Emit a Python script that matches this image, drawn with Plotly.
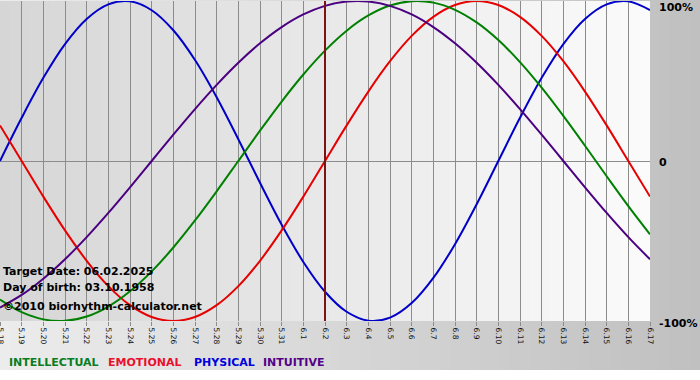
import plotly.graph_objects as go

# ---- data (one per day) ----
dates = ["5.18", "5.19", "5.20", "5.21", "5.22", "5.23", "5.24", "5.25", "5.26", "5.27",
         "5.28", "5.29", "5.30", "5.31", "6.1", "6.2", "6.3", "6.4", "6.5", "6.6",
         "6.7", "6.8", "6.9", "6.10", "6.11", "6.12", "6.13", "6.14", "6.15", "6.16", "6.17"]

physical = [0.0, 0.2698, 0.5196, 0.7308, 0.8879, 0.9791, 0.9977, 0.9423, 0.8170, 0.6311,
            0.3984, 0.1362, -0.1362, -0.3984, -0.6311, -0.8170, -0.9423, -0.9977, -0.9791, -0.8879,
            -0.7308, -0.5196, -0.2698, 0.0, 0.2698, 0.5196, 0.7308, 0.8879, 0.9791, 0.9977, 0.9423]

emotional = [0.2225, 0.0, -0.2225, -0.4339, -0.6235, -0.7818, -0.9010, -0.9749, -1.0, -0.9749,
             -0.9010, -0.7818, -0.6235, -0.4339, -0.2225, 0.0, 0.2225, 0.4339, 0.6235, 0.7818,
             0.9010, 0.9749, 1.0, 0.9749, 0.9010, 0.7818, 0.6235, 0.4339, 0.2225, 0.0, -0.2225]

intellectual = [-0.8660, -0.9450, -0.9898, -0.9989, -0.9718, -0.9096, -0.8146, -0.6901, -0.5406, -0.3717,
                -0.1893, 0.0, 0.1893, 0.3717, 0.5406, 0.6901, 0.8146, 0.9096, 0.9718, 0.9989,
                0.9898, 0.9450, 0.8660, 0.7557, 0.6182, 0.4582, 0.2817, 0.0951, -0.0951, -0.2817, -0.4582]

intuitive = [-0.9158, -0.8372, -0.7357, -0.6142, -0.4759, -0.3247, -0.1646, 0.0, 0.1646, 0.3247,
             0.4759, 0.6142, 0.7357, 0.8372, 0.9158, 0.9694, 0.9966, 0.9966, 0.9694, 0.9158,
             0.8372, 0.7357, 0.6142, 0.4759, 0.3247, 0.1646, 0.0, -0.1646, -0.3247, -0.4759, -0.6142]

target_date = "6.2"
y_tick_vals = [1, 0, -1]
y_tick_text = ["100%", "0", "-100%"]
legend_names = ["INTELLECTUAL", "EMOTIONAL", "PHYSICAL", "INTUITIVE"]

# ---- layout constants ----
W, H = 700, 380
ML, MR, MT, MB = 0, 50, 1, 59
PW = W - ML - MR
PH = H - MT - MB


def px_x(px):
    return (px - ML) / PW


def px_y(py):
    return (H - MB - py) / PH


x_idx = list(range(len(dates)))

series = [
    ("PHYSICAL", physical, "#0000c8"),
    ("EMOTIONAL", emotional, "#e60000"),
    ("INTELLECTUAL", intellectual, "#008000"),
    ("INTUITIVE", intuitive, "#4b0082"),
]

fig = go.Figure()
for name, vals, col in series:
    fig.add_trace(go.Scatter(x=x_idx, y=vals, mode="lines", name=name,
                             line=dict(color=col, width=2, shape="spline"),
                             hoverinfo="skip"))

shapes = []
# outer background gradient (light left -> darker right)
n_out = 70
for j in range(n_out):
    g = round(236 - (236 - 192) * j / (n_out - 1))
    shapes.append(dict(type="rect", xref="paper", yref="paper",
                       x0=px_x(j * 10), x1=px_x((j + 1) * 10),
                       y0=px_y(370), y1=px_y(0),
                       fillcolor=f"rgb({g},{g},{g})", line=dict(width=0), layer="below"))
# plot area gradient (grey left -> white right)
n_in = 65
for j in range(n_in):
    g = round(214 + (251 - 214) * j / (n_in - 1))
    shapes.append(dict(type="rect", xref="paper", yref="paper",
                       x0=j / n_in, x1=(j + 1) / n_in, y0=0, y1=1,
                       fillcolor=f"rgb({g},{g},{g})", line=dict(width=0), layer="below"))
# target date line
t_idx = dates.index(target_date)
shapes.append(dict(type="line", xref="x", yref="paper", x0=t_idx, x1=t_idx, y0=0, y1=1,
                   line=dict(color="#7a1414", width=2), layer="above"))

ann = []
bold = dict(family="DejaVu Sans", size=11, color="#000000")
info_lines = [("<b>Target Date: 06.02.2025</b>", 271),
              ("<b>Day of birth: 03.10.1958</b>", 287),
              ("<b>©2010 biorhythm-calculator.net</b>", 306)]
for txt, py in info_lines:
    ann.append(dict(text=txt, xref="paper", yref="paper", x=px_x(1), y=px_y(py),
                    xanchor="left", yanchor="middle", showarrow=False, font=bold))

# y labels on the right
y_label_px = [7, 162, 323]
for val, txt, py in zip(y_tick_vals, y_tick_text, y_label_px):
    ann.append(dict(text=f"<b>{txt}</b>", xref="paper", yref="paper", x=px_x(657), y=px_y(py),
                    xanchor="left", yanchor="middle", showarrow=False, font=bold))

# legend text
leg_cols = {"INTELLECTUAL": "#0a7d1f", "EMOTIONAL": "#e8112d",
            "PHYSICAL": "#0000dd", "INTUITIVE": "#550088"}
leg_x = [7, 106, 192, 261]
for name, lx in zip(legend_names, leg_x):
    ann.append(dict(text=f"<b>{name}</b>", xref="paper", yref="paper", x=px_x(lx), y=px_y(362),
                    xanchor="left", yanchor="middle", showarrow=False,
                    font=dict(family="DejaVu Sans", size=11, color=leg_cols[name])))

fig.update_layout(
    width=W, height=H, autosize=False,
    margin=dict(l=ML, r=MR, t=MT, b=MB, pad=0, autoexpand=False),
    paper_bgcolor="#ffffff", plot_bgcolor="rgba(0,0,0,0)",
    showlegend=False, hovermode=False,
    shapes=shapes, annotations=ann,
    xaxis=dict(range=[0, len(dates) - 1], tickmode="array", tickvals=x_idx, ticktext=dates,
               tickangle=90, tickfont=dict(family="DejaVu Sans", size=7.5, color="#111111"),
               ticklabeloverflow="allow", automargin=False,
               showgrid=True, gridcolor="#8c8c8c", gridwidth=1,
               ticks="outside", ticklen=4, tickcolor="#8c8c8c", tickwidth=1,
               zeroline=False, showline=False, fixedrange=True),
    yaxis=dict(range=[-1, 1], showgrid=False, zeroline=True, zerolinecolor="#8c8c8c",
               zerolinewidth=1, showticklabels=False, ticks="", fixedrange=True,
               automargin=False),
)

fig.write_html("out.html", config={"displayModeBar": False},
               post_script="document.body.style.margin='0px';document.body.style.padding='0px';")
